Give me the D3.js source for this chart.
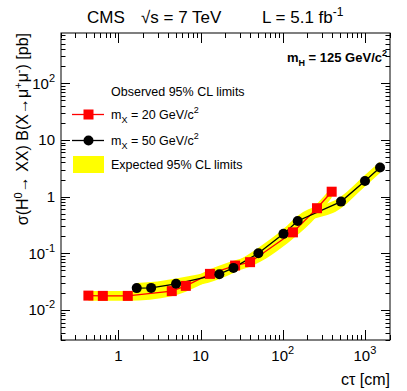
<!DOCTYPE html>
<html><head><meta charset="utf-8">
<script src="https://cdn.jsdelivr.net/npm/d3@7"></script>
<style>body{margin:0;background:#fff}svg{display:block;font-family:"Liberation Sans",Arial,sans-serif}</style>
</head><body><svg id="c" width="407" height="391"></svg>
<script>
// ---- data ----
const ctau20 = [0.431, 0.646, 1.30, 4.46, 6.61, 13.0, 26.3, 40.0, 133, 261, 394];
const obs20  = [0.0179, 0.0177, 0.0177, 0.0215, 0.0266, 0.0433, 0.0607, 0.0697, 0.234, 0.624, 1.22];
const expLo20 = [0.0145, 0.0145, 0.0145, 0.0175, 0.021, 0.033, 0.048, 0.058, 0.18, 0.45, 0.95];
const expHi20 = [0.0215, 0.0215, 0.0215, 0.027, 0.032, 0.052, 0.075, 0.09, 0.30, 0.75, 1.45];

const ctau50 = [1.67, 2.50, 5.03, 16.9, 25.1, 50.5, 102, 152, 512, 1002, 1528];
const obs50  = [0.0243, 0.0245, 0.0289, 0.0428, 0.0552, 0.100, 0.220, 0.372, 0.816, 1.89, 3.27];
const expLo50 = [0.020, 0.020, 0.023, 0.035, 0.045, 0.080, 0.17, 0.29, 0.62, 1.5, 2.6];
const expHi50 = [0.030, 0.031, 0.036, 0.054, 0.068, 0.125, 0.27, 0.46, 1.0, 2.4, 4.1];

const xTickVals = [1, 10, 100, 1000];
const xTickLabels = [["1",""],["10",""],["10","2"],["10","3"]];
const yTickVals = [0.01, 0.1, 1, 10, 100];
const yTickLabels = [["10","-2"],["10","-1"],["1",""],["10",""],["10","2"]];

// ---- layout ----
const L = 61, R = 390, T = 33, B = 340;
const svg = d3.select("#c");
const x = d3.scaleLog().domain([0.2, 2020]).range([L, R]);
const y = d3.scaleLog().domain([0.00295, 770]).range([B, T]);

// bands
const band = d3.area().x(d => x(d[0])).y0(d => y(d[1])).y1(d => y(d[2])).curve(d3.curveMonotoneX);
svg.append("path").datum(ctau20.map((c,i)=>[c,expLo20[i],expHi20[i]])).attr("d", band).attr("fill", "#ffff00");
svg.append("path").datum(ctau50.map((c,i)=>[c,expLo50[i],expHi50[i]])).attr("d", band).attr("fill", "#ffff00");

// lines
const line = d3.line().x(d => x(d[0])).y(d => y(d[1]));
svg.append("path").datum(ctau20.map((c,i)=>[c,obs20[i]])).attr("d", line).attr("fill","none").attr("stroke","#ff0000").attr("stroke-width",1.3);
svg.append("path").datum(ctau50.map((c,i)=>[c,obs50[i]])).attr("d", line).attr("fill","none").attr("stroke","#000").attr("stroke-width",1.3);
svg.selectAll("rect.m20").data(ctau20.map((c,i)=>[c,obs20[i]])).enter().append("rect")
  .attr("x", d => x(d[0]) - 5).attr("y", d => y(d[1]) - 5).attr("width", 10).attr("height", 10).attr("fill", "#ff0000");
svg.selectAll("circle.m50").data(ctau50.map((c,i)=>[c,obs50[i]])).enter().append("circle")
  .attr("cx", d => x(d[0])).attr("cy", d => y(d[1])).attr("r", 5).attr("fill", "#000");

// frame
svg.append("rect").attr("x", L).attr("y", T).attr("width", R-L).attr("height", B-T).attr("fill","none").attr("stroke","#000").attr("stroke-width",1);

// ticks
const tg = svg.append("g").attr("stroke","#000").attr("stroke-width",1);
function minorTicks(dom) {
  const out = [];
  for (let e = -4; e <= 4; e++) for (let k = 1; k <= 9; k++) {
    const v = k * Math.pow(10, e);
    if (v >= dom[0] && v <= dom[1]) out.push([v, k === 1]);
  }
  return out;
}
minorTicks(x.domain()).forEach(([v, major]) => {
  const px = Math.round(x(v)) + 0.5, len = major ? 10 : 5;
  tg.append("line").attr("x1", px).attr("x2", px).attr("y1", B).attr("y2", B - len);
  tg.append("line").attr("x1", px).attr("x2", px).attr("y1", T).attr("y2", T + len);
});
minorTicks(y.domain()).forEach(([v, major]) => {
  const py = Math.round(y(v)) + 0.5, len = major ? 9 : 4.5;
  tg.append("line").attr("y1", py).attr("y2", py).attr("x1", L).attr("x2", L + len);
  tg.append("line").attr("y1", py).attr("y2", py).attr("x1", R).attr("x2", R - len);
});

// tick labels
function supText(sel, base, sup) {
  sel.append("tspan").text(base);
  if (sup) sel.append("tspan").attr("dy", -7).attr("font-size", 11).text(sup);
}
xTickVals.forEach((v, i) => {
  const t = svg.append("text").attr("x", x(v)).attr("y", 361).attr("font-size", 15).attr("text-anchor", "middle");
  supText(t, xTickLabels[i][0], xTickLabels[i][1]);
});
yTickVals.forEach((v, i) => {
  const t = svg.append("text").attr("x", 55).attr("y", y(v) + 5.5).attr("font-size", 15).attr("text-anchor", "end");
  supText(t, yTickLabels[i][0], yTickLabels[i][1]);
});

// axis titles
svg.append("text").attr("x", 390).attr("y", 385).attr("text-anchor","end").attr("font-size",16).text("cτ [cm]");
const yt = svg.append("text").attr("transform","translate(28,33) rotate(-90)").attr("text-anchor","end").attr("font-size",16);
yt.append("tspan").text("σ(H");
yt.append("tspan").attr("dy",-6).attr("font-size",11).text("0");
yt.append("tspan").attr("dy",6).text("→ XX) B(X→μ");
yt.append("tspan").attr("dy",-6).attr("font-size",11).text("+");
yt.append("tspan").attr("dy",6).text("μ");
yt.append("tspan").attr("dy",-6).attr("font-size",11).text("-");
yt.append("tspan").attr("dy",6).text(") [pb]");

// title
svg.append("text").attr("x", 87).attr("y", 23).attr("font-size", 17).text("CMS");
svg.append("text").attr("x", 141).attr("y", 23).attr("font-size", 17).text("√s = 7 TeV");
const lt = svg.append("text").attr("x", 262).attr("y", 23).attr("font-size", 17);
lt.append("tspan").text("L = 5.1 fb");
lt.append("tspan").attr("dy", -7).attr("font-size", 12).text("-1");

// mH label
const mh = svg.append("text").attr("x", 387).attr("y", 62).attr("text-anchor","end").attr("font-size",13).attr("font-weight","bold");
mh.append("tspan").text("m");
mh.append("tspan").attr("dy",4).attr("font-size",9).text("H");
mh.append("tspan").attr("dy",-4).text(" = 125 GeV/c");
mh.append("tspan").attr("dy",-6).attr("font-size",9).text("2");

// legend
svg.append("text").attr("x", 111).attr("y", 96).attr("font-size", 12.5).text("Observed 95% CL limits");
svg.append("line").attr("x1",72).attr("x2",104).attr("y1",114.5).attr("y2",114.5).attr("stroke","#ff0000").attr("stroke-width",1.3);
svg.append("rect").attr("x",83.5).attr("y",109.5).attr("width",10).attr("height",10).attr("fill","#ff0000");
svg.append("line").attr("x1",72).attr("x2",104).attr("y1",140.5).attr("y2",140.5).attr("stroke","#000").attr("stroke-width",1.3);
svg.append("circle").attr("cx",88.5).attr("cy",140.5).attr("r",5).attr("fill","#000");
svg.append("rect").attr("x",73).attr("y",156).attr("width",31).attr("height",17).attr("fill","#ffff00");
function legText(yy, mass) {
  const t = svg.append("text").attr("x",111).attr("y",yy).attr("font-size",12.5);
  t.append("tspan").text("m");
  t.append("tspan").attr("dy",4).attr("font-size",9).text("X");
  t.append("tspan").attr("dy",-4).text(" = " + mass + " GeV/c");
  t.append("tspan").attr("dy",-6).attr("font-size",9).text("2");
}
legText(119, 20);
legText(145, 50);
svg.append("text").attr("x",111).attr("y",169).attr("font-size",12.5).text("Expected 95% CL limits");
</script></body></html>
